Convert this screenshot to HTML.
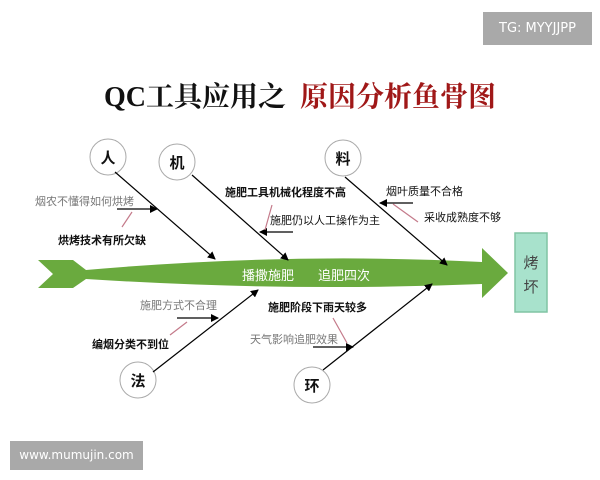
<!DOCTYPE html>
<html><head><meta charset="utf-8"><style>
body{margin:0;width:600px;height:480px;background:#fff;overflow:hidden;position:relative;font-family:"Liberation Sans","Noto Sans CJK SC",sans-serif}
</style></head><body>
<div style="position:absolute;left:483px;top:12px;width:109px;height:33px;background:#a9a9a9;color:#fff;font-size:13px;line-height:33px;text-align:center;font-family:'DejaVu Sans',sans-serif">TG: MYYJJPP</div>
<div style="position:absolute;left:10px;top:441px;width:133px;height:29px;background:#a9a9a9;color:#fff;font-size:12px;line-height:29px;text-align:center;font-family:'DejaVu Sans',sans-serif">www.mumujin.com</div>
<svg width="600" height="480" style="position:absolute;left:0;top:0" font-family="Liberation Sans, Noto Sans CJK SC, sans-serif">
<defs>
<marker id="a" markerWidth="8" markerHeight="8" refX="7" refY="4" orient="auto" markerUnits="userSpaceOnUse"><path d="M0,0 L8,4 L0,8 z" fill="#000"/></marker>
</defs>
<text x="104" y="106" font-size="28" font-weight="bold" font-family="Liberation Serif, Noto Serif CJK SC, serif" fill="#111">QC工具应用之</text>
<text x="300" y="106" font-size="28" font-weight="bold" font-family="Noto Serif CJK SC, serif" fill="#a01818">原因分析鱼骨图</text>
<path d="M38,260 L73,260 L86,270 Q290,252 482,262 L482,248 L508,273 L482,298 L482,284 Q290,292 86,279 L73,288 L38,288 L53,274 Z" fill="#6aaa3e"/>
<rect x="515" y="233" width="32" height="79" fill="#a8e2cc" stroke="#80c4a4" stroke-width="1.5"/>
<text x="531" y="268" font-size="15" fill="#444" text-anchor="middle">烤</text>
<text x="531" y="292" font-size="15" fill="#444" text-anchor="middle">坏</text>
<text x="242" y="280" font-size="13" fill="#fff">播撒施肥</text>
<text x="318" y="280" font-size="13" fill="#fff">追肥四次</text>
<g fill="#fff" stroke="#aaa" stroke-width="1">
<circle cx="108" cy="157" r="18"/><circle cx="177" cy="162" r="18"/><circle cx="343" cy="158" r="18"/>
<circle cx="138" cy="380" r="18"/><circle cx="312" cy="385" r="18"/></g>
<g font-size="15" font-weight="bold" text-anchor="middle" fill="#111">
<text x="108" y="163">人</text><text x="177" y="168">机</text><text x="343" y="164">料</text>
<text x="138" y="386">法</text><text x="312" y="391">环</text></g>
<g stroke="#000" stroke-width="1.2" marker-end="url(#a)">
<line x1="115" y1="172" x2="215" y2="259"/>
<line x1="192" y1="175" x2="288" y2="260"/>
<line x1="345" y1="177" x2="447" y2="265"/>
<line x1="153" y1="372" x2="258" y2="290"/>
<line x1="323" y1="370" x2="432" y2="284"/>
<line x1="117" y1="209" x2="157" y2="209"/>
<line x1="293" y1="232" x2="260" y2="232"/>
<line x1="413" y1="203" x2="380" y2="203"/>
<line x1="177" y1="318" x2="218" y2="318"/>
<line x1="313" y1="347" x2="353" y2="347"/>
</g>
<g stroke="#c47a8a" stroke-width="1.2">
<line x1="122" y1="227" x2="132" y2="212"/>
<line x1="272" y1="205" x2="265" y2="230"/>
<line x1="418" y1="222" x2="393" y2="204"/>
<line x1="170" y1="335" x2="187" y2="322"/>
<line x1="333" y1="318" x2="347" y2="343"/>
</g>
<g font-size="11">
<text x="35" y="205" fill="#777">烟农不懂得如何烘烤</text>
<text x="58" y="244" font-weight="bold" fill="#111">烘烤技术有所欠缺</text>
<text x="225" y="196" font-weight="bold" fill="#111">施肥工具机械化程度不高</text>
<text x="270" y="224" fill="#111">施肥仍以人工操作为主</text>
<text x="386" y="195" fill="#111">烟叶质量不合格</text>
<text x="424" y="221" fill="#111">采收成熟度不够</text>
<text x="140" y="309" fill="#777">施肥方式不合理</text>
<text x="92" y="348" font-weight="bold" fill="#111">编烟分类不到位</text>
<text x="268" y="311" font-weight="bold" fill="#111">施肥阶段下雨天较多</text>
<text x="250" y="343" fill="#777">天气影响追肥效果</text>
</g>
</svg>
</body></html>
